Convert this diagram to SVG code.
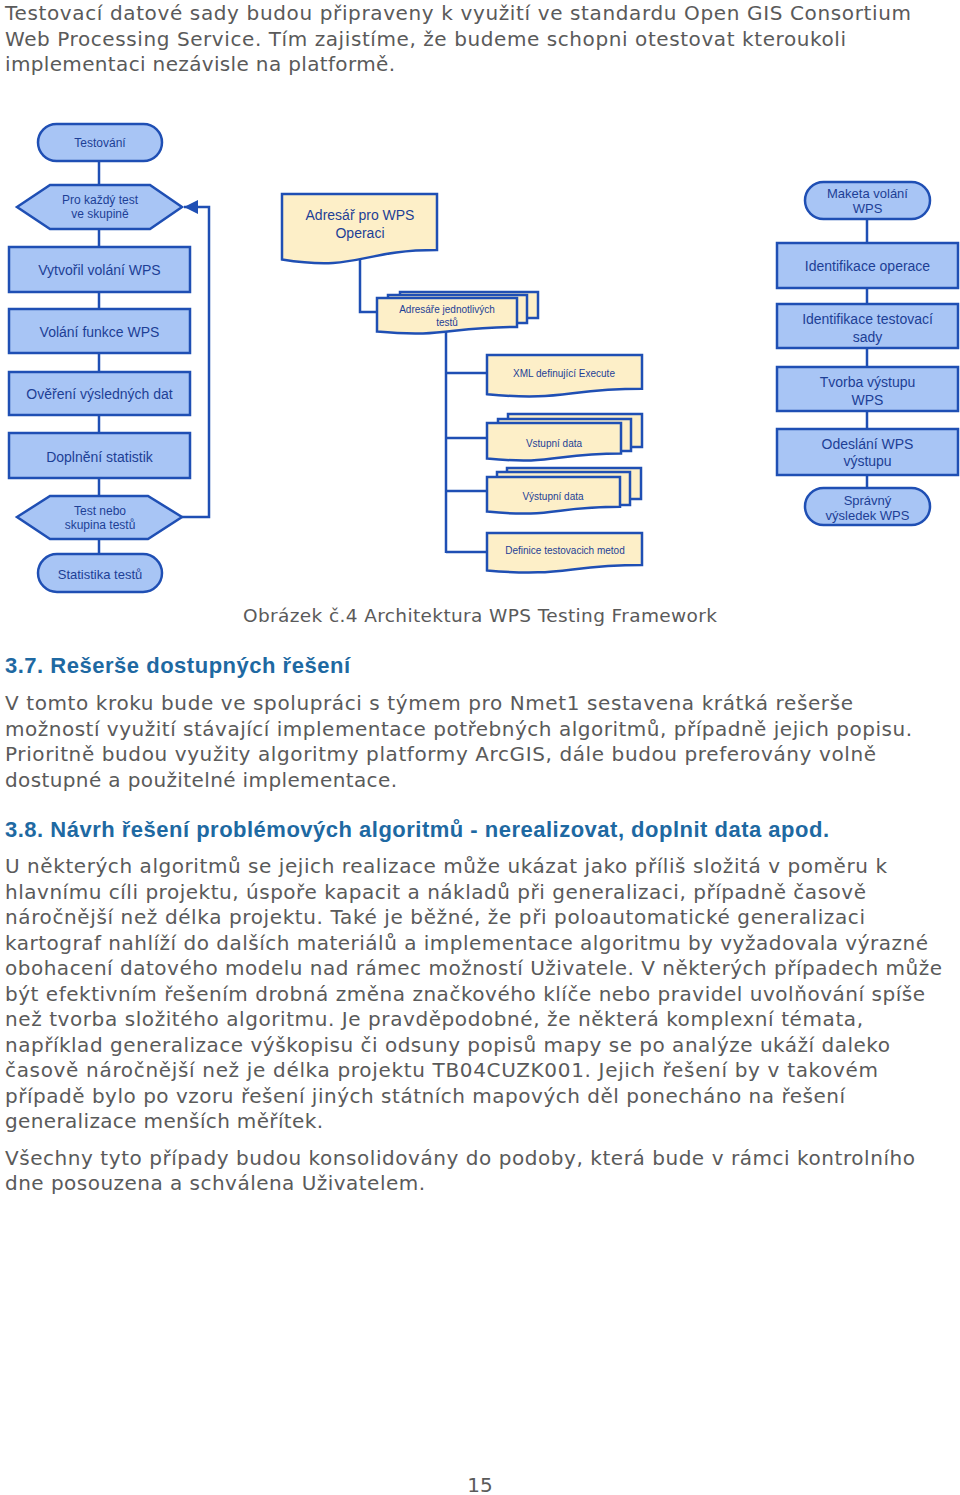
<svg xmlns="http://www.w3.org/2000/svg" width="960" height="1495" viewBox="0 0 960 1495">
<style>
.box{fill:#a8c5f5;stroke:#1f4fb4;stroke-width:2.5}
.doc{fill:#fdefc8;stroke:#1f4fb4;stroke-width:2.5}
.conn{stroke:#1f4fb4;stroke-width:2.5;fill:none}
.lbl{font-family:"Liberation Sans",Arial,sans-serif;fill:#1d3f96;text-anchor:middle}
.f14{font-size:14px}
.f13{font-size:13px}
.f12{font-size:12px}
.f10{font-size:10px}
.body{font-family:"DejaVu Sans",Verdana,sans-serif;font-size:20px;fill:#5a5a5a}
.cap{font-family:"DejaVu Sans",Verdana,sans-serif;font-size:18.5px;fill:#5a5a5a}
.h{font-family:"Liberation Sans",Arial,sans-serif;font-weight:bold;font-size:22px;fill:#1e69a2}
</style>
<defs>
<marker id="arr" viewBox="0 0 14 14" refX="14" refY="7" markerWidth="14" markerHeight="14" markerUnits="userSpaceOnUse" orient="auto">
<path d="M0,0 L14,7 L0,14 Z" fill="#1f4fb4"/>
</marker>
</defs>
<rect width="960" height="1495" fill="#ffffff"/>

<g id="text-top">
<text class="body" x="5" y="20" textLength="906" lengthAdjust="spacing">Testovací datové sady budou připraveny k využití ve standardu Open GIS Consortium</text>
<text class="body" x="5" y="46" textLength="841" lengthAdjust="spacing">Web Processing Service. Tím zajistíme, že budeme schopni otestovat kteroukoli</text>
<text class="body" x="5" y="71" textLength="390" lengthAdjust="spacing">implementaci nezávisle na platformě.</text>
</g>

<g id="connectors">
<line class="conn" x1="99" y1="161" x2="99" y2="185"/>
<line class="conn" x1="99" y1="229" x2="99" y2="247"/>
<line class="conn" x1="99" y1="292" x2="99" y2="309"/>
<line class="conn" x1="99" y1="353" x2="99" y2="372"/>
<line class="conn" x1="99" y1="415" x2="99" y2="433"/>
<line class="conn" x1="99" y1="478" x2="99" y2="496"/>
<line class="conn" x1="99" y1="539" x2="99" y2="554"/>
<path class="conn" d="M182,517 H209 V207 H184" marker-end="url(#arr)"/>
<path class="conn" d="M360,258 V312 H377"/>
<line class="conn" x1="446" y1="330" x2="446" y2="553"/>
<line class="conn" x1="446" y1="373" x2="487" y2="373"/>
<line class="conn" x1="446" y1="438" x2="487" y2="438"/>
<line class="conn" x1="446" y1="491" x2="487" y2="491"/>
<line class="conn" x1="446" y1="552" x2="487" y2="552"/>
<line class="conn" x1="867" y1="219" x2="867" y2="243"/>
<line class="conn" x1="867" y1="288" x2="867" y2="304"/>
<line class="conn" x1="867" y1="348" x2="867" y2="367"/>
<line class="conn" x1="867" y1="411" x2="867" y2="429"/>
<line class="conn" x1="867" y1="475" x2="867" y2="488"/>
</g>

<g id="n-testovani">
<rect class="box" x="38" y="124" width="124" height="37" rx="18.5"/>
<text class="lbl f12" x="100" y="147">Testování</text>
</g>
<g id="n-prokazdy">
<polygon class="box" points="17,207 50,185 150,185 182,207 150,229 50,229"/>
<text class="lbl f12" x="100" y="204">Pro každý test</text>
<text class="lbl f12" x="100" y="218">ve skupině</text>
</g>
<g id="n-vytvoril">
<rect class="box" x="9" y="247" width="181" height="45"/>
<text class="lbl f14" x="99.5" y="275">Vytvořil volání WPS</text>
</g>
<g id="n-volani">
<rect class="box" x="9" y="309" width="181" height="44"/>
<text class="lbl f14" x="99.5" y="337">Volání funkce WPS</text>
</g>
<g id="n-overeni">
<rect class="box" x="9" y="372" width="181" height="43"/>
<text class="lbl f14" x="99.5" y="399">Ověření výsledných dat</text>
</g>
<g id="n-doplneni">
<rect class="box" x="9" y="433" width="181" height="45"/>
<text class="lbl f14" x="99.5" y="462">Doplnění statistik</text>
</g>
<g id="n-testnebo">
<polygon class="box" points="17,517 50,496 148,496 182,517 148,539 50,539"/>
<text class="lbl f12" x="100" y="515">Test nebo</text>
<text class="lbl f12" x="100" y="529">skupina testů</text>
</g>
<g id="n-statistika">
<rect class="box" x="38" y="554" width="124" height="38" rx="19"/>
<text class="lbl f13" x="100" y="579">Statistika testů</text>
</g>

<g id="n-adresar">
<path class="doc" d="M282,194 H437 V250.1 C359.5,250.1 359.5,271.6 282,259.4 Z"/>
<text class="lbl f14" x="360" y="220">Adresář pro WPS</text>
<text class="lbl f14" x="360" y="238">Operaci</text>
</g>
<g id="n-adresare">
<rect class="doc" x="400" y="292" width="138" height="26"/>
<rect class="doc" x="388" y="295" width="139" height="28"/>
<path class="doc" d="M377,298 H517 V326.9 C447,326.9 447,337.9 377,331.6 Z"/>
<text class="lbl f10" x="447" y="313">Adresáře jednotlivých</text>
<text class="lbl f10" x="447" y="326">testů</text>
</g>
<g id="n-xml">
<path class="doc" d="M487,355 H642 V388.7 C564.5,388.7 564.5,401.5 487,394.2 Z"/>
<text class="lbl f10" x="564" y="377">XML definující Execute</text>
</g>
<g id="n-vstupni">
<rect class="doc" x="508" y="414" width="134" height="33"/>
<rect class="doc" x="498" y="419" width="133" height="32"/>
<path class="doc" d="M487,423 H621 V453.5 C554,453.5 554,465.1 487,458.5 Z"/>
<text class="lbl f10" x="554" y="447">Vstupní data</text>
</g>
<g id="n-vystupni">
<rect class="doc" x="507" y="468" width="134" height="31"/>
<rect class="doc" x="497" y="472" width="133" height="33"/>
<path class="doc" d="M487,477 H620 V506.7 C553.5,506.7 553.5,518 487,511.6 Z"/>
<text class="lbl f10" x="553" y="500">Výstupní data</text>
</g>
<g id="n-definice">
<path class="doc" d="M487,533 H642 V565.1 C564.5,565.1 564.5,577.3 487,570.4 Z"/>
<text class="lbl f10" x="565" y="554">Definice testovacich metod</text>
</g>

<g id="n-maketa">
<rect class="box" x="805" y="182" width="125" height="37" rx="18.5"/>
<text class="lbl f13" x="867.5" y="198">Maketa volání</text>
<text class="lbl f13" x="867.5" y="213">WPS</text>
</g>
<g id="n-idoperace">
<rect class="box" x="777" y="243" width="181" height="45"/>
<text class="lbl f14" x="867.5" y="271">Identifikace operace</text>
</g>
<g id="n-idsady">
<rect class="box" x="777" y="304" width="181" height="44"/>
<text class="lbl f14" x="867.5" y="324">Identifikace testovací</text>
<text class="lbl f14" x="867.5" y="342">sady</text>
</g>
<g id="n-tvorba">
<rect class="box" x="777" y="367" width="181" height="44"/>
<text class="lbl f14" x="867.5" y="387">Tvorba výstupu</text>
<text class="lbl f14" x="867.5" y="405">WPS</text>
</g>
<g id="n-odeslani">
<rect class="box" x="777" y="429" width="181" height="46"/>
<text class="lbl f14" x="867.5" y="449">Odeslání WPS</text>
<text class="lbl f14" x="867.5" y="466">výstupu</text>
</g>
<g id="n-spravny">
<rect class="box" x="805" y="488" width="125" height="37" rx="18.5"/>
<text class="lbl f13" x="867.5" y="505">Správný</text>
<text class="lbl f13" x="867.5" y="520">výsledek WPS</text>
</g>

<g id="text-bottom">
<text class="cap" x="243" y="622" textLength="474" lengthAdjust="spacing">Obrázek č.4 Architektura WPS Testing Framework</text>
<text class="h" x="5" y="673" textLength="345" lengthAdjust="spacing">3.7. Rešerše dostupných řešení</text>
<text class="body" x="5" y="710" textLength="848" lengthAdjust="spacing">V tomto kroku bude ve spolupráci s týmem pro Nmet1 sestavena krátká rešerše</text>
<text class="body" x="5" y="736" textLength="907" lengthAdjust="spacing">možností využití stávající implementace potřebných algoritmů, případně jejich popisu.</text>
<text class="body" x="5" y="761" textLength="871" lengthAdjust="spacing">Prioritně budou využity algoritmy platformy ArcGIS, dále budou preferovány volně</text>
<text class="body" x="5" y="787" textLength="392" lengthAdjust="spacing">dostupné a použitelné implementace.</text>
<text class="h" x="5" y="837" textLength="824" lengthAdjust="spacing">3.8. Návrh řešení problémových algoritmů - nerealizovat, doplnit data apod.</text>
<text class="body" x="5" y="873" textLength="882" lengthAdjust="spacing">U některých algoritmů se jejich realizace může ukázat jako příliš složitá v poměru k</text>
<text class="body" x="5" y="899" textLength="861" lengthAdjust="spacing">hlavnímu cíli projektu, úspoře kapacit a nákladů při generalizaci, případně časově</text>
<text class="body" x="5" y="924" textLength="860" lengthAdjust="spacing">náročnější než délka projektu. Také je běžné, že při poloautomatické generalizaci</text>
<text class="body" x="5" y="950" textLength="923" lengthAdjust="spacing">kartograf nahlíží do dalších materiálů a implementace algoritmu by vyžadovala výrazné</text>
<text class="body" x="5" y="975" textLength="937" lengthAdjust="spacing">obohacení datového modelu nad rámec možností Uživatele. V některých případech může</text>
<text class="body" x="5" y="1001" textLength="920" lengthAdjust="spacing">být efektivním řešením drobná změna značkového klíče nebo pravidel uvolňování spíše</text>
<text class="body" x="5" y="1026" textLength="858" lengthAdjust="spacing">než tvorba složitého algoritmu. Je pravděpodobné, že některá komplexní témata,</text>
<text class="body" x="5" y="1052" textLength="885" lengthAdjust="spacing">například generalizace výškopisu či odsuny popisů mapy se po analýze ukáží daleko</text>
<text class="body" x="5" y="1077" textLength="873" lengthAdjust="spacing">časově náročnější než je délka projektu TB04CUZK001. Jejich řešení by v takovém</text>
<text class="body" x="5" y="1103" textLength="840" lengthAdjust="spacing">případě bylo po vzoru řešení jiných státních mapových děl ponecháno na řešení</text>
<text class="body" x="5" y="1128" textLength="318" lengthAdjust="spacing">generalizace menších měřítek.</text>
<text class="body" x="5" y="1165" textLength="910" lengthAdjust="spacing">Všechny tyto případy budou konsolidovány do podoby, která bude v rámci kontrolního</text>
<text class="body" x="5" y="1190" textLength="420" lengthAdjust="spacing">dne posouzena a schválena Uživatelem.</text>
<text class="body" x="480" y="1492" text-anchor="middle">15</text>
</g>
</svg>
